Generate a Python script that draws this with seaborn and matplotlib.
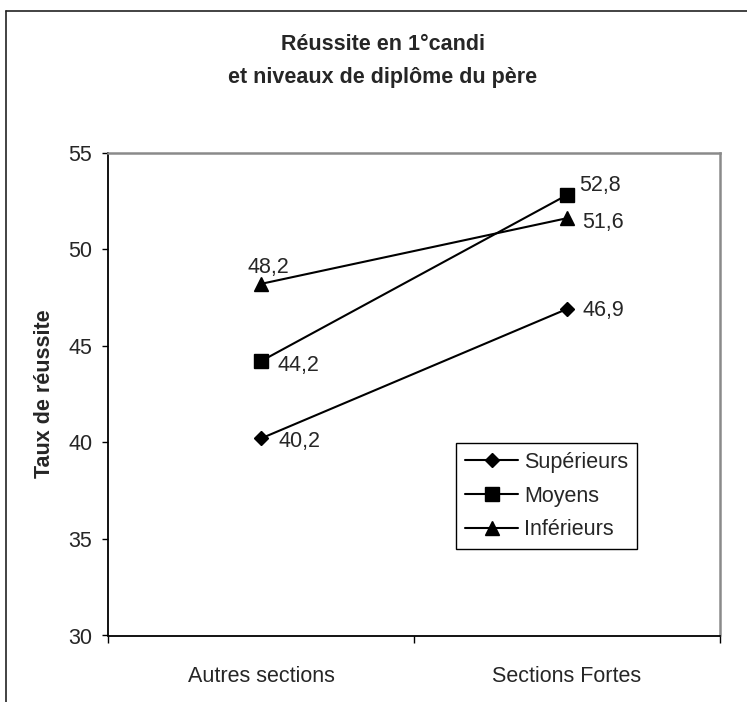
import numpy as np
import pandas as pd
import matplotlib
matplotlib.use("Agg")
import matplotlib.pyplot as plt
import seaborn as sns
from matplotlib.lines import Line2D

# Success rate in first "candi" by section and father's diploma level
categories = ["Autres sections", "Sections Fortes"]
series_names = ["Supérieurs", "Moyens", "Inférieurs"]
superieurs = [40.2, 46.9]
moyens = [44.2, 52.8]
inferieurs = [48.2, 51.6]
y_ticks = [30, 35, 40, 45, 50, 55]

sns.set_style("ticks")
plt.rcParams["font.family"] = ["Liberation Sans", "DejaVu Sans"]
FS = 15.5

df = pd.DataFrame({
    "section": np.tile(np.arange(len(categories)), len(series_names)),
    "niveau": np.repeat(series_names, len(categories)),
    "taux": superieurs + moyens + inferieurs,
})

fig = plt.figure(figsize=(7.47, 7.02), dpi=100)
ax = fig.add_axes([108 / 747, 1 - 635.5 / 702, 612 / 747, 483 / 702])

markers = {"Supérieurs": "D", "Moyens": "s", "Inférieurs": "^"}
sns.lineplot(data=df, x="section", y="taux", hue="niveau", style="niveau",
             hue_order=series_names, style_order=series_names,
             markers=markers, dashes=False, palette=["black"] * 3,
             linewidth=1.5, markeredgecolor="black", markeredgewidth=1,
             legend=False, ax=ax)

marker_sizes = {"D": 7.3, "s": 9.6, "^": 10.5}
series_lines = ax.get_lines()[:len(series_names)]
for ln in series_lines:
    ln.set_markersize(marker_sizes.get(ln.get_marker(), 9))
    ln.set_markerfacecolor("black")

# Category axis: one band per category, boundaries ticked
n = len(categories)
ax.set_xlim(-0.5, n - 0.5)
ax.set_xticks(np.arange(n + 1) - 0.5)
ax.set_xticklabels([])
ax.set_xticks(np.arange(n), minor=True)
ax.set_xticklabels(categories, minor=True, fontsize=FS)
ax.tick_params(axis="x", which="major", length=5, width=1, direction="out", color="black")
ax.tick_params(axis="x", which="minor", length=0, pad=22)

ax.set_ylim(y_ticks[0], y_ticks[-1])
ax.set_yticks(y_ticks)
ax.set_yticklabels([str(t) for t in y_ticks], fontsize=FS)
ax.tick_params(axis="y", length=4.3, width=1, direction="out", color="black", pad=7)

ax.set_xlabel("")
ax.set_ylabel("Taux de réussite", fontsize=FS, fontweight="bold")
ax.yaxis.set_label_coords(-0.087, 0.5)

for side in ("left", "bottom"):
    ax.spines[side].set_color("black")
    ax.spines[side].set_linewidth(1.3)
for side in ("top", "right"):
    ax.spines[side].set_color("#8a8a8a")
    ax.spines[side].set_linewidth(1.8)

# Value labels
offsets = {
    "Supérieurs": [(28, -2), (26, -1)],
    "Moyens": [(27, -3), (24, 6.5)],
    "Inférieurs": [(5, 11.5), (26, -3)],
}
for name, vals in zip(series_names, [superieurs, moyens, inferieurs]):
    for i, v in enumerate(vals):
        ax.annotate(f"{v:.1f}".replace(".", ","), xy=(i, v),
                    xytext=offsets[name][i], textcoords="offset points",
                    ha="center", va="center", fontsize=FS)

# Legend
handles = [Line2D([], [], color="black", linewidth=1.5, marker=ln.get_marker(),
                  markersize=ln.get_markersize(), markerfacecolor="black",
                  markeredgecolor="black") for ln in series_lines]
leg = ax.legend(handles, series_names, loc="upper left",
                bbox_to_anchor=(456 / 747, 1 - 443 / 702),
                bbox_transform=fig.transFigure, borderaxespad=0,
                fontsize=FS, frameon=True, fancybox=False, shadow=False,
                framealpha=1, edgecolor="black", handlelength=2.5,
                handletextpad=0.25, labelspacing=0.6, borderpad=0.4)
leg.get_frame().set_linewidth(1.0)

# Title
fig.text(383 / 747, 1 - 45 / 702, "Réussite en 1°candi", ha="center", va="center",
         fontsize=FS, fontweight="bold")
fig.text(383 / 747, 1 - 77 / 702, "et niveaux de diplôme du père", ha="center",
         va="center", fontsize=FS, fontweight="bold")

# Outer chart border (top and left edges)
fig.add_artist(Line2D([6 / 747, 1], [1 - 11 / 702, 1 - 11 / 702],
                      transform=fig.transFigure, color="#222222", linewidth=1.2))
fig.add_artist(Line2D([6 / 747, 6 / 747], [0, 1 - 11 / 702],
                      transform=fig.transFigure, color="#222222", linewidth=1.2))

fig.savefig("out.png", dpi=100, facecolor="white")
